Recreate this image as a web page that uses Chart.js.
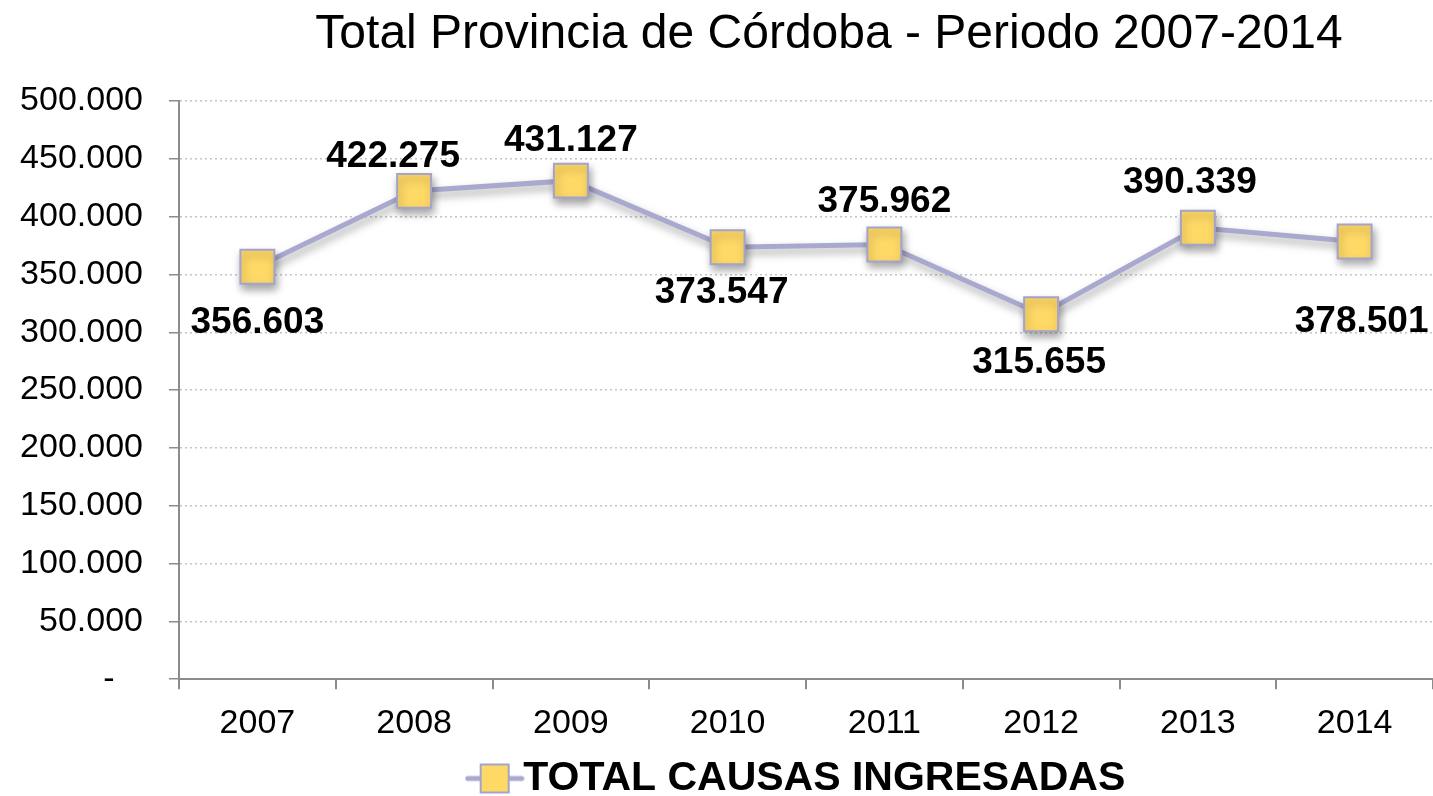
<!DOCTYPE html>
<html>
<head>
<meta charset="utf-8">
<script src="https://cdn.jsdelivr.net/npm/chart.js@4"></script>
<style>
html,body{margin:0;padding:0;background:#fff;}
#wrap{width:1433px;height:796px;position:relative;}
</style>
</head>
<body>
<div id="wrap"><canvas id="c"></canvas></div>
<script>
const categories = ['2007','2008','2009','2010','2011','2012','2013','2014'];
const totalCausas = [356603, 422275, 431127, 373547, 375962, 315655, 390339, 378501];
const seriesName = 'TOTAL CAUSAS INGRESADAS';
const chartTitle = 'Total Provincia de Córdoba - Periodo 2007-2014';
const yTickValues = [0, 50000, 100000, 150000, 200000, 250000, 300000, 350000, 400000, 450000, 500000];

// label placement (style, not data): offsets of label centre from point
const labelOffsets = [[0,56],[-21,-34],[0,-40],[-6,46],[0,-43],[-2,49],[-8,-45],[7,80]];

const LINE_COLOR = '#A9A9D0';
const MARK_FILL = '#FFD966';
const MARK_BORDER = '#A3A3CC';
const FONT = '"Liberation Sans", Arial, sans-serif';

function fmt(v){
  if (v === 0) return '-   ';
  return String(v).replace(/\B(?=(\d{3})+(?!\d))/g, '.');
}

// legend symbol
const sym = document.createElement('canvas');
sym.width = 60; sym.height = 34;
(function(){
  const g = sym.getContext('2d');
  g.strokeStyle = LINE_COLOR; g.lineWidth = 5; g.lineCap = 'round';
  g.beginPath(); g.moveTo(3,17); g.lineTo(57,17); g.stroke();
  g.fillStyle = MARK_FILL; g.fillRect(16,3,28,28);
  g.strokeStyle = MARK_BORDER; g.lineWidth = 2; g.strokeRect(16,3,28,28);
})();

const shadowPlugin = {
  id: 'shadow',
  beforeDatasetsDraw(chart){
    const ctx = chart.ctx; ctx.save();
    ctx.shadowColor = 'rgba(0,0,0,0.35)';
    ctx.shadowBlur = 8; ctx.shadowOffsetX = 2; ctx.shadowOffsetY = 5;
  },
  afterDatasetsDraw(chart){ chart.ctx.restore(); }
};

const labelPlugin = {
  id: 'dlabels',
  afterDraw(chart){
    const ctx = chart.ctx;
    const meta = chart.getDatasetMeta(0);
    ctx.save();
    ctx.font = 'bold 37px ' + FONT;
    ctx.fillStyle = '#000';
    ctx.textAlign = 'center'; ctx.textBaseline = 'middle';
    meta.data.forEach((pt, i) => {
      const o = labelOffsets[i];
      ctx.fillText(fmt(totalCausas[i]), pt.x + o[0], pt.y + o[1]);
    });
    // title
    ctx.font = '48px ' + FONT;
    ctx.fillText(chartTitle, chart.chartArea.left + (chart.chartArea.right - chart.chartArea.left) / 2 + 23, 35);
    ctx.restore();
  }
};

new Chart(document.getElementById('c'), {
  type: 'line',
  data: {
    labels: categories,
    datasets: [{
      label: seriesName,
      data: totalCausas,
      borderColor: LINE_COLOR,
      borderWidth: 5,
      tension: 0,
      pointStyle: 'rect',
      pointRadius: 24,
      pointHoverRadius: 24,
      pointBackgroundColor: MARK_FILL,
      pointBorderColor: MARK_BORDER,
      pointBorderWidth: 2,
      clip: false
    }]
  },
  options: {
    responsive: true,
    maintainAspectRatio: false,
    animation: false,
    events: [],
    layout: { autoPadding: false, padding: { left: 0, right: 0, top: 101, bottom: -13 } },
    plugins: {
      title: { display: false },
      legend: {
        display: true, position: 'bottom', fullSize: false,
        labels: {
          color: '#000',
          font: { family: FONT, size: 41, weight: 'bold' },
          usePointStyle: true,
          pointStyleWidth: 16,
          generateLabels(chart){
            return [{ text: seriesName, pointStyle: sym, fillStyle: MARK_FILL, strokeStyle: MARK_BORDER, lineWidth: 0, datasetIndex: 0, fontColor: '#000' }];
          },
          padding: 6
        }
      },
      tooltip: { enabled: false }
    },
    scales: {
      x: {
        offset: true,
        afterFit(scale){ scale.height -= 6; scale.paddingLeft = 0; scale.paddingRight = 0; },
        grid: { display: true, drawOnChartArea: false, drawTicks: true, tickLength: 10, offset: true, color: '#8c8c8c', tickColor: '#8c8c8c', lineWidth: 2 },
        border: { display: true, color: '#8c8c8c', width: 2 },
        ticks: { color: '#000', font: { family: FONT, size: 34 }, padding: 14, maxRotation: 0 }
      },
      y: {
        min: 0, max: 500000,
        afterBuildTicks(scale){ scale.ticks = yTickValues.map(v => ({ value: v })); },
        afterFit(scale){ scale.width = 179; },
        grid: { display: true, drawOnChartArea: true, drawTicks: true, tickLength: 10, color: '#c4c4c4', tickColor: '#8c8c8c', lineWidth: 1.5, tickBorderDash: [] },
        border: { display: true, color: '#8c8c8c', width: 2, dash: [2, 3] },
        ticks: { color: '#000', font: { family: FONT, size: 34 }, padding: 26, callback: v => fmt(v) }
      }
    }
  },
  plugins: [shadowPlugin, labelPlugin]
});
</script>
</body>
</html>
